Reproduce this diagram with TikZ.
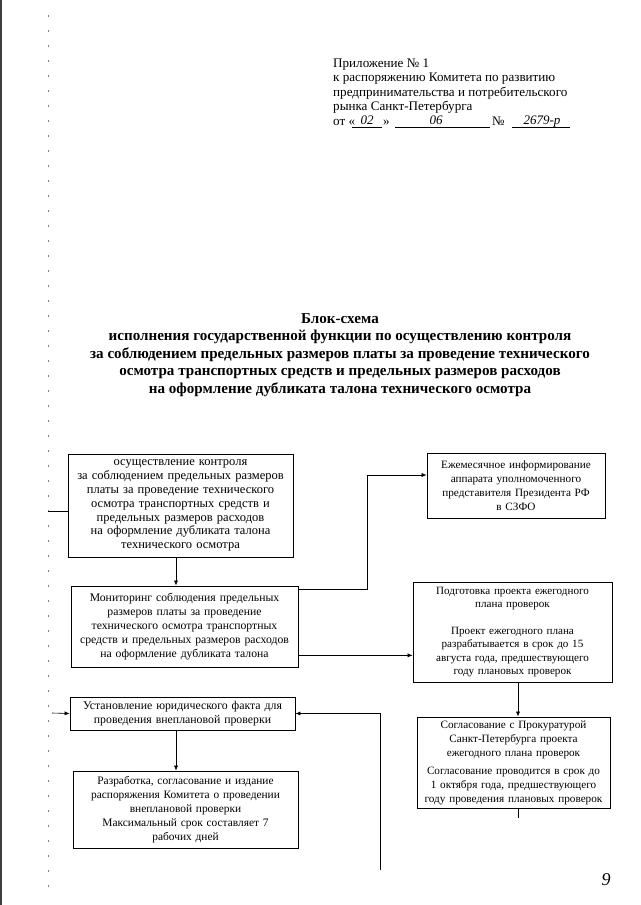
\documentclass[tikz,border=0pt]{standalone}
\usepackage{fontspec}
\setmainfont{Liberation Serif}
\usetikzlibrary{arrows.meta}

\begin{document}
\begin{tikzpicture}[x=1pt,y=1pt]

% Styles for the flow chart
\tikzset{box/.style={draw, line width=0.7pt, align=center, inner sep=1pt,
        font=\fontsize{11.2}{13.8}\selectfont},
        arr/.style={line width=0.6pt, -{Latex[length=5pt,width=4pt]}},
        head/.style={anchor=base west, inner sep=0, font=\fontsize{13.1}{14}\selectfont},
        hand/.style={font=\fontsize{13}{14}\selectfont\itshape}
        }

% Page size (A4 scan)
\useasboundingbox (0,0) rectangle (640,-905);

% Scan edges
\draw[line width=1.5pt, black!75] (1,0) -- (1,-905);
\draw[gray, dash pattern=on 2pt off 13pt] (48,-15) -- (48,-890);

% Header block
\def\hx{333}
\node[head] (h1) at (\hx,-67) {Приложение № 1};
\node[head] (h2) at (\hx,-81.5) {к распоряжению Комитета по развитию};
\node[head] (h3) at (\hx,-96) {предпринимательства и потребительского};
\node[head] (h4) at (\hx,-110.5) {рынка Санкт-Петербурга};
\node[head] (h5) at (\hx,-125) {от «};
\node[anchor=base, hand, inner sep=0] (day) at (367,-124) {02};
\node[head] (h6) at (383,-125) {»};
\node[anchor=base, hand, inner sep=0] (month) at (436,-124) {06};
\node[head] (h7) at (492,-125) {№};
\node[anchor=base, hand, inner sep=0] (num) at (542,-124) {2679-р};
\draw[line width=0.5pt] (352,-127) -- (382,-127);
\draw[line width=0.5pt] (395,-127) -- (490,-127);
\draw[line width=0.5pt] (512,-127) -- (570,-127);

% Title
\node[align=center, font=\fontsize{15.1}{17.4}\selectfont\bfseries] (title) at (340,-355) {Блок-схема\\
исполнения государственной функции по осуществлению контроля\\
за соблюдением предельных размеров платы за проведение технического\\
осмотра транспортных средств и предельных размеров расходов\\
на оформление дубликата талона технического осмотра};

% Boxes
\node[box, font=\fontsize{12.5}{13.9}\selectfont, minimum width=225, minimum height=103, text width=223] (control) at (180.5,-505.5) {осуществление контроля\\
за соблюдением предельных размеров\\
платы за проведение технического\\
осмотра транспортных средств и\\
предельных размеров расходов\\
на оформление дубликата талона\\
технического осмотра};

\node[box, minimum width=178, minimum height=65, text width=176] (inform) at (516,-485.5) {Ежемесячное информирование\\
аппарата уполномоченного\\
представителя Президента РФ\\
в СЗФО};

\node[box, font=\fontsize{11.7}{14}\selectfont, minimum width=227, minimum height=81, text width=225] (monitor) at (184.5,-626.5) {Мониторинг соблюдения предельных\\
размеров платы за проведение\\
технического осмотра транспортных\\
средств и предельных размеров расходов\\
на оформление дубликата талона};

\node[box, font=\fontsize{11.1}{13.3}\selectfont, minimum width=199, minimum height=100, text width=197] (prepare) at (512.5,-632) {Подготовка проекта ежегодного\\
плана проверок\\[13.3pt]
Проект ежегодного плана\\
разрабатывается в срок до 15\\
августа года, предшествующего\\
году плановых проверок};

\node[box, font=\fontsize{11.2}{14}\selectfont, minimum width=193, minimum height=91, text width=191] (agree) at (513.5,-762.5) {Согласование с Прокуратурой\\
Санкт-Петербурга проекта\\
ежегодного плана проверок\\[4pt]
Согласование проводится в срок до\\
1 октября года, предшествующего\\
году проведения плановых проверок};

\node[box, font=\fontsize{11.8}{14}\selectfont, minimum width=225, minimum height=33, text width=223] (fact) at (182.5,-713.5) {Установление юридического факта для\\
проведения внеплановой проверки};

\node[box, font=\fontsize{11.4}{14}\selectfont, minimum width=225, minimum height=77, text width=223] (order) at (185.5,-809.5) {Разработка, согласование и издание\\
распоряжения Комитета о проведении\\
внеплановой проверки\\
Максимальный срок составляет 7\\
рабочих дней};

% Connectors
\coordinate (colL) at (176,0);
\coordinate (colM) at (367,0);
\coordinate (colR) at (518,0);
\coordinate (tailA) at (48,-511);
\coordinate (tailF) at (52,-713);
\coordinate (tailR) at (380,-870);
\coordinate (tailE) at (518,-818);

\draw[line width=0.6pt] (tailA) -- (tailA -| control.west);
\draw[arr] (control.south -| colL) -- (monitor.north -| colL);
\draw[arr] ([yshift=-4pt]monitor.north east) -| ([yshift=10.5pt]inform.west -| colM) -- ([yshift=10.5pt]inform.west);
\draw[arr] ([yshift=12pt]monitor.south east) -- ([yshift=12pt]monitor.south east -| prepare.west);
\draw[arr] (prepare.south -| colR) -- (agree.north -| colR);
\draw[line width=0.6pt] (agree.south -| colR) -- (tailE);
\draw[arr] (tailF) -- (fact.west);
\draw[arr] (tailR) |- (fact.east);
\draw[arr] (fact.south -| colL) -- (order.north -| colL);

% Page number
\node[hand, font=\fontsize{18}{18}\selectfont\itshape] (page) at (606,-880) {9};

\end{tikzpicture}
\end{document}
